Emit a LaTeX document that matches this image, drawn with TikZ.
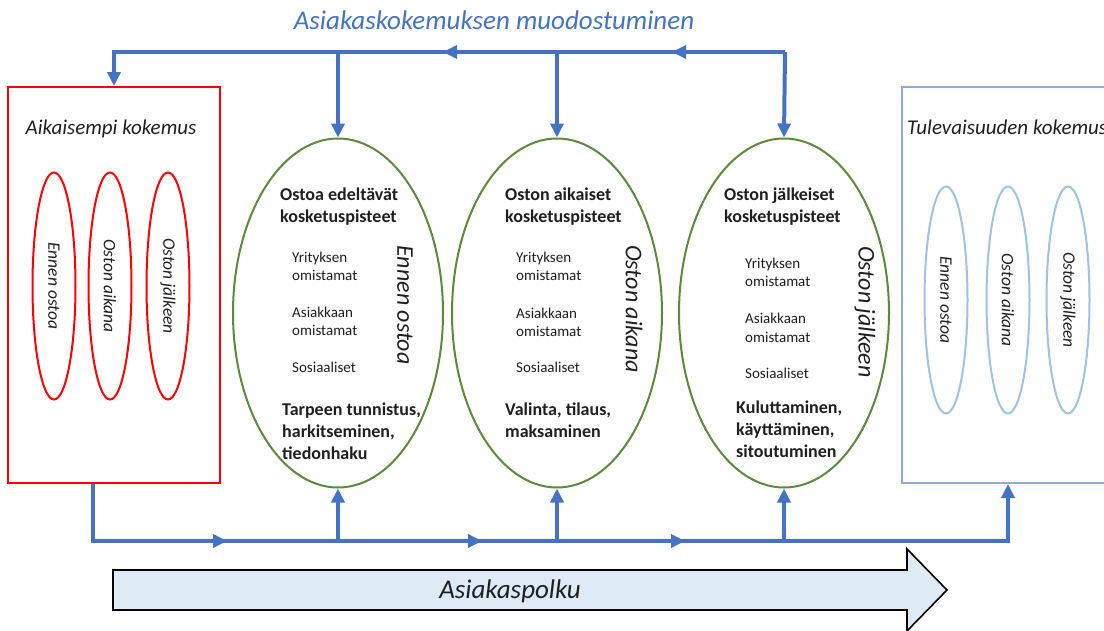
\documentclass[tikz,border=0pt]{standalone}
\usepackage{fontspec}
\setmainfont{Carlito}
\usetikzlibrary{arrows.meta,shapes.geometric}
\definecolor{flowblue}{HTML}{4472C4}
\definecolor{stagegreen}{HTML}{5A8A3C}
\definecolor{pastred}{HTML}{FF0000}
\definecolor{futureblue}{HTML}{8FAADC}
\definecolor{futureell}{HTML}{9DC3E6}
\definecolor{pathfill}{HTML}{DEEBF7}
\definecolor{ink}{HTML}{1F1F1F}
\begin{document}
\begin{tikzpicture}[x=1pt,y=-1pt,
  flow/.style={draw=flowblue,line width=4pt},
  flowtip/.style={-{Triangle[length=14pt,width=13pt]}},
  boxframe/.style={draw=#1,line width=2pt,minimum width=212pt,minimum height=396pt,inner sep=0pt},
  phaseell/.style={ellipse,draw=#1,line width=2pt,minimum width=227pt,minimum height=43pt,inner sep=0pt,rotate=-90,text=ink,font=\fontsize{17.5}{17.5}\selectfont\itshape},
  stageell/.style={ellipse,draw=stagegreen,line width=2pt,minimum width=210pt,minimum height=349pt,inner sep=0pt},
  headtxt/.style={anchor=base west,inner sep=0pt,text=ink,font=\fontsize{18}{18}\selectfont\bfseries},
  itemtxt/.style={anchor=base west,inner sep=0pt,text=ink,font=\fontsize{15}{15}\selectfont},
  sidetxt/.style={rotate=-90,inner sep=0pt,text=ink,font=\fontsize{24}{24}\selectfont\itshape},
  boxtitle/.style={inner sep=0pt,text=ink,font=\fontsize{21}{21}\selectfont\itshape},
]
\useasboundingbox (0,0) rectangle (1104,630);
\clip (0,0) rectangle (1104,630);

% title
\node[anchor=base,inner sep=0pt,text=flowblue,font=\fontsize{27}{27}\selectfont\itshape] (title) at (494,29) {Asiakaskokemuksen muodostuminen};

% earlier experience
\node[boxframe=pastred] (past) at (114,285) {};
\node[boxtitle,anchor=base] (pastlbl) at (111,134) {Aikaisempi kokemus};
\node[phaseell=pastred] (p1) at (54,286) {Ennen ostoa};
\node[phaseell=pastred] (p2) at (110,286) {Oston aikana};
\node[phaseell=pastred] (p3) at (168,286) {Oston jälkeen};

% future experience
\node[boxframe=futureblue] (future) at (1008,285) {};
\node[boxtitle,anchor=base west] (futurelbl) at (907,134) {Tulevaisuuden kokemus};
\node[phaseell=futureell] (f1) at (946,300) {Ennen ostoa};
\node[phaseell=futureell] (f2) at (1008,300) {Oston aikana};
\node[phaseell=futureell] (f3) at (1068,300) {Oston jälkeen};

% purchase stages
\node[stageell] (e1) at (338,313) {};
\node[stageell] (e2) at (557,313) {};
\node[stageell] (e3) at (784,313) {};

\node[headtxt] (e1h1) at (280,200) {Ostoa edeltävät};
\node[headtxt] (e1h2) at (280,222) {kosketuspisteet};
\node[itemtxt] (e1i1) at (292,262) {Yrityksen};
\node[itemtxt] (e1i2) at (292,280) {omistamat};
\node[itemtxt] (e1i3) at (292,317) {Asiakkaan};
\node[itemtxt] (e1i4) at (292,335) {omistamat};
\node[itemtxt] (e1i5) at (292,372) {Sosiaaliset};
\node[headtxt] (e1b1) at (282,415) {Tarpeen tunnistus,};
\node[headtxt] (e1b2) at (282,437) {harkitseminen,};
\node[headtxt] (e1b3) at (282,459) {tiedonhaku};
\node[sidetxt] (e1s) at (405,305) {Ennen ostoa};

\node[headtxt] (e2h1) at (505,200) {Oston aikaiset};
\node[headtxt] (e2h2) at (505,222) {kosketuspisteet};
\node[itemtxt] (e2i1) at (516,262) {Yrityksen};
\node[itemtxt] (e2i2) at (516,280) {omistamat};
\node[itemtxt] (e2i3) at (516,318) {Asiakkaan};
\node[itemtxt] (e2i4) at (516,336) {omistamat};
\node[itemtxt] (e2i5) at (516,372) {Sosiaaliset};
\node[headtxt] (e2b1) at (505,415) {Valinta, tilaus,};
\node[headtxt] (e2b2) at (505,437) {maksaminen};
\node[sidetxt] (e2s) at (634,309) {Oston aikana};

\node[headtxt] (e3h1) at (724,200) {Oston jälkeiset};
\node[headtxt] (e3h2) at (724,222) {kosketuspisteet};
\node[itemtxt] (e3i1) at (745,268) {Yrityksen};
\node[itemtxt] (e3i2) at (745,286) {omistamat};
\node[itemtxt] (e3i3) at (745,323) {Asiakkaan};
\node[itemtxt] (e3i4) at (745,342) {omistamat};
\node[itemtxt] (e3i5) at (745,378) {Sosiaaliset};
\node[headtxt] (e3b1) at (736,413) {Kuluttaminen,};
\node[headtxt] (e3b2) at (736,435) {käyttäminen,};
\node[headtxt] (e3b3) at (736,457) {sitoutuminen};
\node[sidetxt] (e3s) at (865,312) {Oston jälkeen};

% feedback line on top
\coordinate (topR) at (785,52);
\coordinate (topA) at (672,52);
\coordinate (topB) at (443,52);
\draw[flow,flowtip] (topR) -| (past.north);
\draw[flow,flowtip] (topR) -- (topA);
\draw[flow,flowtip] (topR) -- (topB);
\draw[flow,flowtip] (e1.north |- topR) -- (e1.north);
\draw[flow,flowtip] (e2.north |- topR) -- (e2.north);
\draw[flow,flowtip] (topR) -- (e3.north);

% customer journey line at the bottom
\coordinate (botL) at (93,541);
\coordinate (botA) at (227,541);
\coordinate (botB) at (482,541);
\coordinate (botC) at (685,541);
\draw[flow,flowtip] ([xshift=-21pt]past.south) |- (future.south |- botL) -- (future.south);
\draw[flow,flowtip] (botL) -- (botA);
\draw[flow,flowtip] (botL) -- (botB);
\draw[flow,flowtip] (botL) -- (botC);
\draw[flow,flowtip] (e1.south |- botL) -- (e1.south);
\draw[flow,flowtip] (e2.south |- botL) -- (e2.south);
\draw[flow,flowtip] (e3.south |- botL) -- (e3.south);

% journey arrow
\draw[fill=pathfill,draw=black,line width=1.6pt,line join=miter]
  (113,570) -- (907,570) -- (907,549) -- (947,590) -- (907,631) -- (907,610) -- (113,610) -- cycle;
\node[anchor=base,inner sep=0pt,text=ink,font=\fontsize{27}{27}\selectfont\itshape] (journey) at (510,598) {Asiakaspolku};
\end{tikzpicture}
\end{document}
